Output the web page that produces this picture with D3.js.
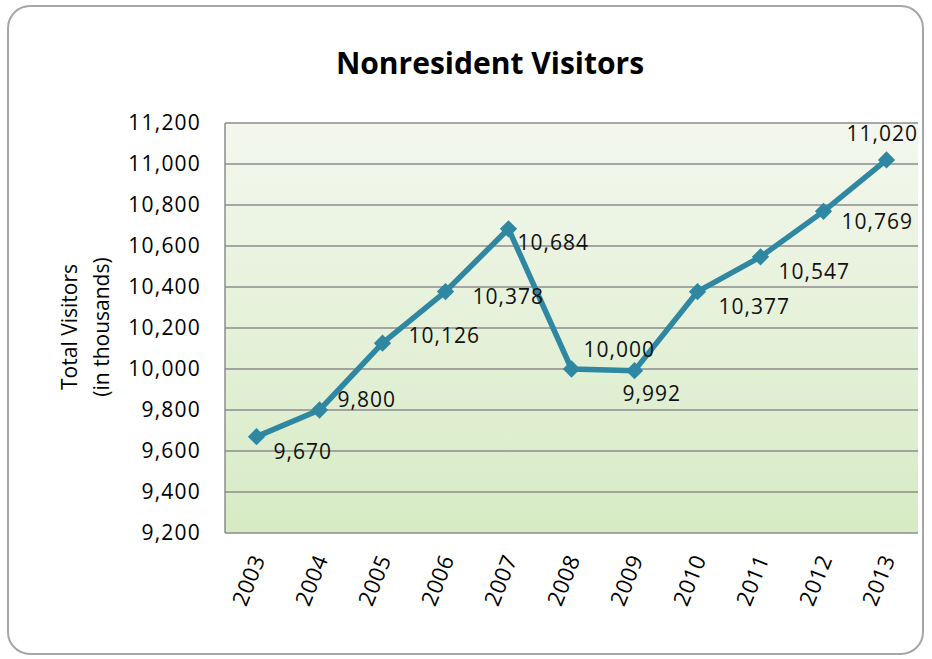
<!DOCTYPE html>
<html><head><meta charset="utf-8">
<script src="https://cdn.jsdelivr.net/npm/d3@7"></script>
<style>body{margin:0;background:#fff;}svg{display:block;font-family:"Open Sans",sans-serif;}</style>
</head><body><svg id="c" width="932" height="659"></svg>
<script>
const years = ["2003","2004","2005","2006","2007","2008","2009","2010","2011","2012","2013"];
const visitors = [9670,9800,10126,10378,10684,10000,9992,10377,10547,10769,11020];
const labelText = ["9,670","9,800","10,126","10,378","10,684","10,000","9,992","10,377","10,547","10,769","11,020"];
const labelPos = [[17,15],[18,-10],[26,-8],[27,5],[9,14],[12,-19],[-12,23],[21,15],[18,15],[18,10],[-40,-26]];
const yTicks = [9200,9400,9600,9800,10000,10200,10400,10600,10800,11000,11200];

const svg = d3.select("#c");
const m = {l:225, r:918, t:123, b:533};
svg.append("rect").attr("x",8).attr("y",6).attr("width",915).attr("height",648).attr("rx",22)
  .attr("fill","#fff").attr("stroke","#a6a6a6").attr("stroke-width",2);

const defs = svg.append("defs");
const g = defs.append("linearGradient").attr("id","bg").attr("x1",0).attr("y1",0).attr("x2",0).attr("y2",1);
g.append("stop").attr("offset","0%").attr("stop-color","#f4f7ee");
g.append("stop").attr("offset","100%").attr("stop-color","#d6ebc4");

const x = d3.scaleBand().domain(years).range([m.l,m.r]);
const y = d3.scaleLinear().domain([9200,11200]).range([m.b,m.t]);

svg.append("rect").attr("x",m.l).attr("y",m.t).attr("width",m.r-m.l).attr("height",m.b-m.t).attr("fill","url(#bg)");

svg.append("g").selectAll("line").data(yTicks).join("line")
  .attr("x1",m.l).attr("x2",m.r).attr("y1",d=>y(d)).attr("y2",d=>y(d))
  .attr("stroke","#8c8c8c").attr("stroke-width",1.5);
svg.append("line").attr("x1",m.l).attr("x2",m.l).attr("y1",m.t).attr("y2",m.b).attr("stroke","#8c8c8c").attr("stroke-width",1.5);

const fmt = d3.format(",");
svg.append("g").selectAll("text").data(yTicks).join("text")
  .attr("x",201).attr("y",d=>y(d)).attr("dy","0.35em").attr("text-anchor","end")
  .attr("font-size",21).attr("letter-spacing",1.2).attr("fill","#000").text(d=>fmt(d));

svg.append("g").selectAll("text").data(years).join("text")
  .attr("transform",d=>`translate(${x(d)+x.bandwidth()/2+2},556) rotate(-68)`)
  .attr("text-anchor","end").attr("dy","0.35em").attr("font-size",22).attr("letter-spacing",0.5).text(d=>d);

svg.append("text").attr("transform","translate(70,327) rotate(-90)").attr("text-anchor","middle")
  .attr("dy","0.35em").attr("font-size",21).text("Total Visitors");
svg.append("text").attr("transform","translate(102,327) rotate(-90)").attr("text-anchor","middle")
  .attr("dy","0.35em").attr("font-size",21).text("(in thousands)");

svg.append("text").attr("x",490).attr("y",74).attr("text-anchor","middle").attr("font-size",30)
  .attr("font-weight","bold").text("Nonresident Visitors");

const cx = (d,i)=>x(years[i])+x.bandwidth()/2;
const line = d3.line().x((d,i)=>cx(d,i)).y(d=>y(d));
svg.append("path").datum(visitors).attr("d",line).attr("fill","none")
  .attr("stroke","#2f87a1").attr("stroke-width",5.5).attr("stroke-linejoin","round");
svg.append("g").selectAll("path").data(visitors).join("path")
  .attr("d",d3.symbol(d3.symbolDiamond2,190)())
  .attr("transform",(d,i)=>`translate(${cx(d,i)},${y(d)})`).attr("fill","#2f87a1");

svg.append("g").selectAll("text").data(visitors).join("text")
  .attr("x",(d,i)=>cx(d,i)+labelPos[i][0]).attr("y",(d,i)=>y(d)+labelPos[i][1])
  .attr("dy","0.35em").attr("font-size",21).attr("letter-spacing",1).attr("fill","#111").text((d,i)=>labelText[i]);
</script></body></html>
